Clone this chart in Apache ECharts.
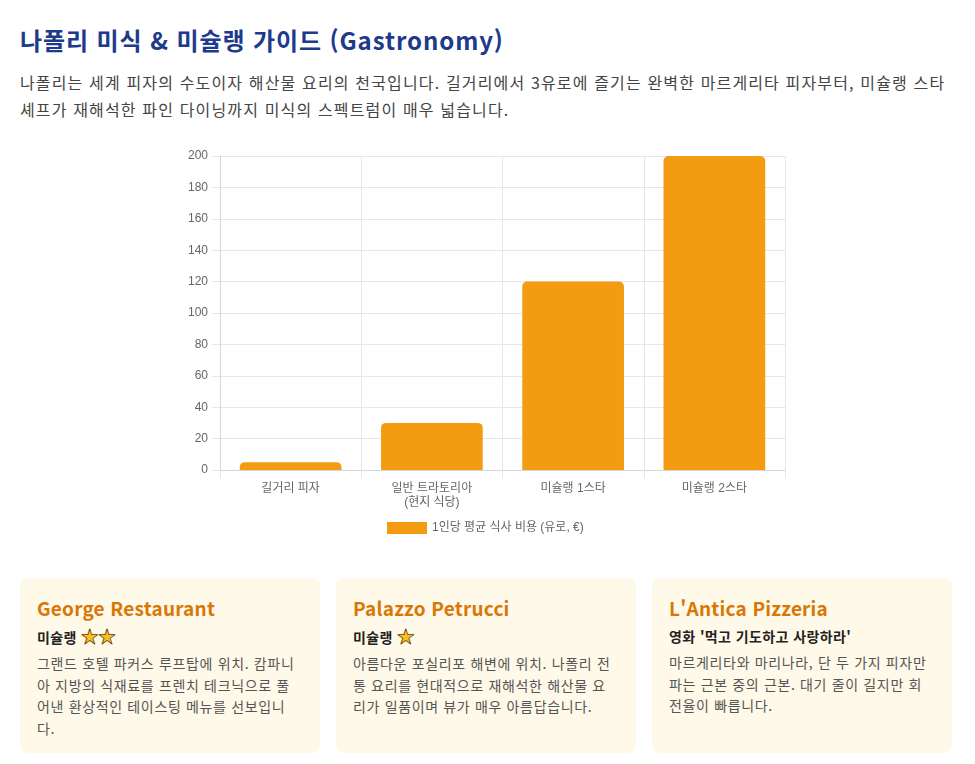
<!DOCTYPE html>
<html lang="ko">
<head>
<meta charset="utf-8">
<title>나폴리 미식 & 미슐랭 가이드</title>
<script src="https://cdn.jsdelivr.net/npm/echarts@6/dist/echarts.min.js"></script>
<style>
    body{
        margin:0;
        background:#fff;
        font-family:"Noto Sans CJK KR","Noto Sans",sans-serif;
    }
    .wrap{
        margin-left:20px;
        width:932px;
    }
    h1{
        margin:24px 0 0;
        font-size:24px;
        line-height:32px;
        font-weight:700;
        letter-spacing:0.9px;
        color:#1e3a8a;
    }
    .intro{
        margin:13px 0 0;
        font-size:16px;
        line-height:27px;
        letter-spacing:1.15px;
        color:#444;
    }
    #chart{
        margin-top:13px;
        width:932px;
        height:420px;
    }
    .cards{
        display:grid;
        grid-template-columns:repeat(3,1fr);
        gap:16px;
        margin-top:22px;
    }
    .card{
        background:#fef9e8;
        border-radius:8px;
        padding:18px 17px 14px;
        min-height:170px;
        box-sizing:border-box;
    }
    .card h3{
        margin:0;
        font-size:19px;
        line-height:24px;
        letter-spacing:0.2px;
        color:#d97706;
    }
    .card .sub{
        margin-top:6px;
        font-size:14px;
        line-height:20px;
        font-weight:700;
        letter-spacing:0.4px;
        color:#222;
    }
    .card .desc{
        margin-top:6px;
        font-size:14px;
        line-height:21.5px;
        letter-spacing:0.65px;
        color:#555;
    }
    .star{
        color:#fbbf24;
        -webkit-text-stroke:0.8px #5a4000;
        font-size:17px;
    }
</style>
</head>
<body>
<div class="wrap">
    <h1>나폴리 미식 &amp; 미슐랭 가이드 (Gastronomy)</h1>
    <p class="intro">나폴리는 세계 피자의 수도이자 해산물 요리의 천국입니다. 길거리에서 3유로에 즐기는 완벽한 마르게리타 피자부터, 미슐랭 스타 셰프가 재해석한 파인 다이닝까지 미식의 스펙트럼이 매우 넓습니다.</p>

    <div id="chart"></div>

    <div class="cards">
        <div class="card">
            <h3>George Restaurant</h3>
            <div class="sub">미슐랭 <span class="star">★★</span></div>
            <div class="desc">그랜드 호텔 파커스 루프탑에 위치. 캄파니아 지방의 식재료를 프렌치 테크닉으로 풀어낸 환상적인 테이스팅 메뉴를 선보입니다.</div>
        </div>
        <div class="card">
            <h3>Palazzo Petrucci</h3>
            <div class="sub">미슐랭 <span class="star">★</span></div>
            <div class="desc">아름다운 포실리포 해변에 위치. 나폴리 전통 요리를 현대적으로 재해석한 해산물 요리가 일품이며 뷰가 매우 아름답습니다.</div>
        </div>
        <div class="card">
            <h3>L'Antica Pizzeria</h3>
            <div class="sub">영화 '먹고 기도하고 사랑하라'</div>
            <div class="desc">마르게리타와 마리나라, 단 두 가지 피자만 파는 근본 중의 근본. 대기 줄이 길지만 회전율이 빠릅니다.</div>
        </div>
    </div>
</div>

<script>
// 식사 유형별 1인당 평균 비용 (유로)
const categories = ["길거리 피자", "일반 트라토리아\n(현지 식당)", "미슐랭 1스타", "미슐랭 2스타"];
const costs = [5, 30, 120, 200];
const seriesName = "1인당 평균 식사 비용 (유로, €)";

const gridColor = "#e6e6e6";
const labelFont = "'Liberation Sans','Noto Sans CJK KR',sans-serif";

const chart = echarts.init(document.getElementById("chart"));

chart.setOption({
    animation:false,
    legend:{
        top:381,
        left:362,
        itemWidth:40,
        itemHeight:12,
        itemGap:6,
        icon:"rect",
        textStyle:{
            color:"#666",
            fontSize:12,
            fontFamily:labelFont
        },
        data:[seriesName]
    },
    grid:{
        left:200,
        right:167,
        top:20,
        bottom:86
    },
    xAxis:{
        type:"category",
        data:categories,
        axisLine:{ lineStyle:{ color:"#d6d6d6" } },
        axisTick:{ show:true, length:8, lineStyle:{ color:gridColor } },
        splitLine:{ show:true, lineStyle:{ color:gridColor } },
        axisLabel:{
            color:"#666",
            fontSize:12,
            lineHeight:14,
            margin:12,
            fontFamily:labelFont
        }
    },
    yAxis:{
        type:"value",
        min:0,
        max:200,
        interval:20,
        axisLine:{ show:true, lineStyle:{ color:"#d6d6d6" } },
        axisTick:{ show:true, length:8, lineStyle:{ color:gridColor } },
        splitLine:{ lineStyle:{ color:gridColor } },
        axisLabel:{
            color:"#666",
            fontSize:12,
            margin:12,
            fontFamily:labelFont
        }
    },
    series:[{
        name:seriesName,
        type:"bar",
        data:costs,
        barWidth:"72%",
        itemStyle:{
            color:"#f39c12",
            borderRadius:[5,5,0,0]
        }
    }]
});
</script>
</body>
</html>
